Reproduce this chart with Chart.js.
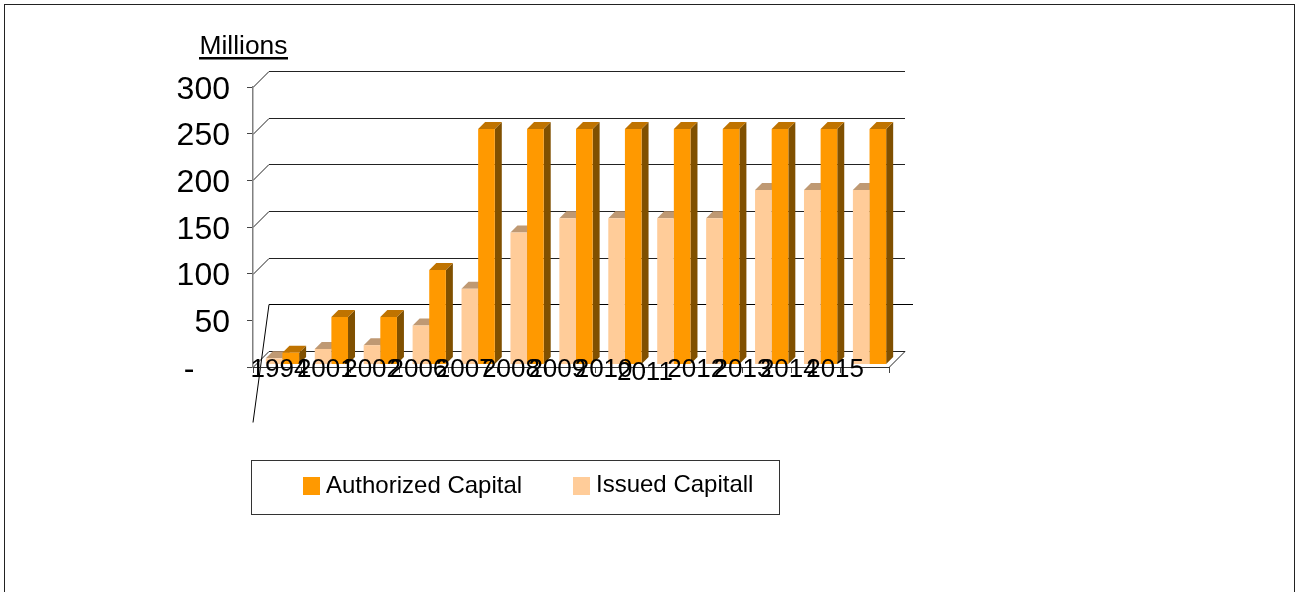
<!DOCTYPE html>
<html>
<head>
<meta charset="utf-8">
<style>html,body{margin:0;padding:0;background:#fff;overflow:hidden}#w{width:1299px;height:592px;position:relative}</style>
<script src="https://cdn.jsdelivr.net/npm/chart.js@4/dist/chart.umd.min.js"></script>
</head>
<body>
<div id="w"><canvas id="c" width="1299" height="592"></canvas></div>
<script>
const categories = ['1994','2001','2002','2006','2007','2008','2009','2010','2011','2012','2013','2014','2015'];
const authorizedCapital = [12,50,50,100,250,250,250,250,250,250,250,250,250];
const issuedCapital = [6,16,20,41,80,140,155,155,155,155,185,185,185];
const yTicks = [0,50,100,150,200,250,300];
const FONT = '"Liberation Sans", Arial, sans-serif';
const AUTH = '#FF9900', ISS = '#FFCC99';

const wire = {
  id:'wire',
  beforeDraw(chart){
    const {ctx} = chart, y = chart.scales.y, a = chart.chartArea, lx = chart.scales.x2;
    lx.getLabelItems().forEach((it,i)=>{
      if(categories[i]==='2011' && !it._moved){ it._moved=true; it.options.translation=[it.options.translation[0]-5,it.options.translation[1]+3]; }
    });
    lx.top = 340; // labels straddle the axis line, so widen the label clip box
    y.getLabelItems().forEach(it=>{
      if(!it._moved){ it._moved=true; it.options.translation=[it.options.translation[0],it.options.translation[1]+3]; }
    });
    ctx.save();
    ctx.strokeStyle='#222'; ctx.lineWidth=1;
    ctx.strokeRect(4.5,4.5,1290,640);
    const d=16;
    yTicks.forEach(v=>{
      const py=Math.round(y.getPixelForValue(v))+.5;
      ctx.beginPath();
      if(v===50){
        ctx.strokeStyle='#000';
        ctx.moveTo(a.left,py+102); ctx.lineTo(a.left+d,py-d); ctx.lineTo(a.right+24,py-d);
      } else {
        ctx.strokeStyle='#222';
        ctx.moveTo(a.left,py); ctx.lineTo(a.left+d,py-d); ctx.lineTo(a.right+d,py-d);
        if(v===0) ctx.lineTo(a.right,py);
      }
      ctx.stroke();
    });
    ctx.fillStyle='#000'; ctx.font='26.4px '+FONT; ctx.textAlign='left'; ctx.textBaseline='alphabetic';
    ctx.fillText('Millions',199.5,54);
    ctx.fillRect(199,57,89,2.5);
    ctx.restore();
  },
  beforeDatasetsDraw(chart){
    const {ctx}=chart, depth=7;
    ctx.save();
    ctx.translate(5,0);
    const faces=[['#BF9973','#806633'],['#BF7300','#805000']];
    chart.data.datasets.forEach((ds,k)=>{
      chart.getDatasetMeta(k).data.forEach(b=>{
        const {x,y,width,base}=b.getProps(['x','y','width','base'],true);
        const r=x+width/2,l=x-width/2;
        ctx.fillStyle=faces[k][1];
        ctx.beginPath();ctx.moveTo(r,y);ctx.lineTo(r+depth,y-depth);ctx.lineTo(r+depth,base-depth);ctx.lineTo(r,base);ctx.closePath();ctx.fill();
        ctx.fillStyle=faces[k][0];
        ctx.beginPath();ctx.moveTo(l,y);ctx.lineTo(l+depth,y-depth);ctx.lineTo(r+depth,y-depth);ctx.lineTo(r,y);ctx.closePath();ctx.fill();
      });
    });
  },
  afterDatasetsDraw(chart){ chart.ctx.restore(); },
  afterDraw(chart){
    const {ctx}=chart;
    ctx.save();
    ctx.strokeStyle='#333';ctx.lineWidth=1;ctx.strokeRect(251.5,460.5,528,54);
    ctx.font='24px '+FONT;ctx.textAlign='left';ctx.textBaseline='alphabetic';
    const items=[[chart.data.datasets[1],303,326,493],[chart.data.datasets[0],573,596,492]];
    items.forEach(([ds,bx,tx,by])=>{
      ctx.fillStyle=ds.backgroundColor;ctx.fillRect(bx,477,17,18);
      ctx.fillStyle='#000';ctx.fillText(ds.label,tx,by);
    });
    ctx.restore();
  }
};

new Chart(document.getElementById('c'),{
  type:'bar',
  data:{labels:categories,datasets:[
    {label:'Issued Capitall',data:issuedCapital,backgroundColor:ISS,xAxisID:'x',yAxisID:'yb',clip:false},
    {label:'Authorized Capital',data:authorizedCapital,backgroundColor:AUTH,xAxisID:'x',yAxisID:'yb',clip:false}
  ]},
  options:{
    responsive:false,animation:false,
    categoryPercentage:.68,barPercentage:1,
    layout:{padding:{top:87,right:410,left:0,bottom:0}},
    plugins:{legend:{display:false},tooltip:{enabled:false}},
    scales:{
      y:{position:'left',min:0,max:300,
        afterFit(s){s.width=253;},
        afterBuildTicks(s){s.ticks=yTicks.map(v=>({value:v}));},
        border:{color:'#808080',width:1.5},
        grid:{drawOnChartArea:false,tickLength:6,color:'#444'},
        ticks:{color:'#000',padding:17,font:{family:FONT,size:32},
          callback:v=>v===0?'-    ':String(v)}},
      yb:{display:false,position:'left',min:-3.19,max:294.7},
      x:{position:'bottom',
        afterFit(s){s.height=0;},
        border:{color:'#333',width:1},
        grid:{offset:true,drawOnChartArea:false,tickLength:6,color:'#444'},
        ticks:{display:false}},
      x2:{type:'linear',position:'bottom',offset:false,bounds:'data',min:(253-279.5)/46.3,max:(889-279.5)/46.3,
        afterFit(s){s.height=225;},
        afterBuildTicks(s){s.ticks=categories.map((_,i)=>({value:i}));},
        border:{display:false},grid:{display:false,offset:false},
        ticks:{z:1,color:'#000',padding:-21,autoSkip:false,maxRotation:0,font:{family:FONT,size:26},
          callback:v=>categories[v]}}
    }
  },
  plugins:[wire]
});
</script>
</body>
</html>
